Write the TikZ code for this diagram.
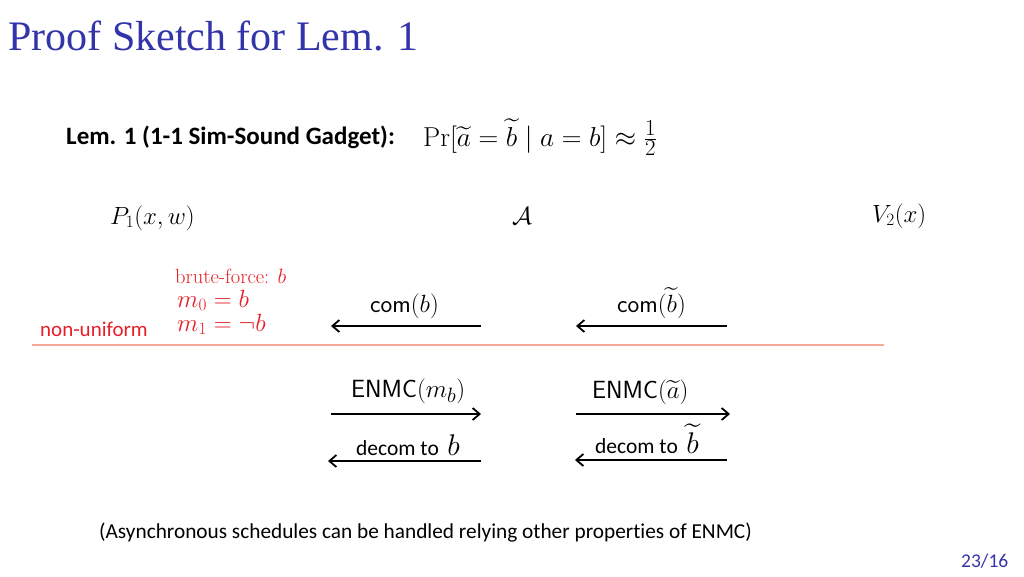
\documentclass[tikz,border=0pt]{standalone}
\usepackage{amsmath,amssymb}
\usepackage{graphicx}
\usepackage{fontspec}
\setmainfont{Latin Modern Roman}
\newfontfamily\titlefont{Liberation Serif}
\newfontfamily\calib[Ligatures=NoCommon]{Carlito}
\usetikzlibrary{arrows.meta}
\definecolor{titleblue}{RGB}{51,51,170}
\definecolor{myred}{RGB}{230,30,40}
\definecolor{sepline}{RGB}{244,170,150}
\tikzset{
  msg/.style={line width=2.2pt,-{Straight Barb[length=7pt,width=12pt,line width=1.8pt]}},
  lbl/.style={inner sep=0pt,anchor=base west},
}
\begin{document}
\begin{tikzpicture}[x=1pt,y=-1pt]
\useasboundingbox (0,0) rectangle (1024,576);
% title
\node[lbl,text=titleblue,font=\titlefont\fontsize{42}{50}\selectfont] (title) at (8,50) {Proof Sketch for Lem. 1};
% lemma
\node[lbl,font=\calib\bfseries\fontsize{25}{30}\selectfont] (lem) at (66,144) {Lem. 1 (1-1 Sim-Sound Gadget):};
\node[lbl,font=\fontsize{24.88}{30}\selectfont,scale=1.1,transform shape] (eq) at (423,146) {$\Pr[\widetilde{a}=\widetilde{b}\mid a=b]\approx\frac{1}{2}$};
% parties
\node[lbl,font=\fontsize{24}{28}\selectfont] (P) at (110,224) {$P_1(x,w)$};
\node[lbl,font=\fontsize{24.88}{30}\selectfont] (A) at (512,224) {$\mathcal{A}$};
\node[lbl,font=\fontsize{24}{28}\selectfont] (V) at (872,222) {$V_2(x)$};
% brute force
\node[lbl,text=myred,font=\fontsize{20.5}{24}\selectfont] (bf) at (175,283) {brute-force: $b$};
\node[lbl,text=myred,font=\fontsize{24}{28}\selectfont] (m0) at (177,307) {$m_0=b$};
\node[lbl,text=myred,font=\fontsize{24}{28}\selectfont] (m1) at (177,331) {$m_1=\neg b$};
\node[lbl,text=myred,font=\calib\fontsize{21}{25}\selectfont] (nu) at (40,336) {non-uniform};
\coordinate (sepL) at (32,345);
\coordinate (sepR) at (884,345);
\draw[sepline,line width=1.2pt] (sepL) -- (sepR);
% commitments
\node[lbl,font=\fontsize{24.88}{30}\selectfont] (com1) at (370,312) {$\mathsf{com}(b)$};
\node[lbl,font=\fontsize{24.88}{30}\selectfont] (com2) at (617,312) {$\mathsf{com}(\widetilde{b})$};
\coordinate (c1s) at (481,326); \coordinate (c1e) at (331,326);
\coordinate (c2s) at (727,326); \coordinate (c2e) at (576,326);
\draw[msg] (c1s) -- (c1e);
\draw[msg] (c2s) -- (c2e);
% ENMC
\node[lbl,font=\fontsize{24.88}{30}\selectfont] (en1) at (351,397) {$\mathsf{ENMC}(m_b)$};
\node[lbl,font=\fontsize{24.88}{30}\selectfont] (en2) at (592,398) {$\mathsf{ENMC}(\widetilde{a})$};
\coordinate (e1s) at (331,414); \coordinate (e1e) at (481,414);
\coordinate (e2s) at (576,414); \coordinate (e2e) at (730,414);
\draw[msg] (e1s) -- (e1e);
\draw[msg] (e2s) -- (e2e);
% decom
\node[lbl,font=\calib\fontsize{21.5}{25}\selectfont] (d1) at (356,455) {decom to\, \fontsize{24.88}{30}\selectfont\scalebox{1.2}{$b$}};
\node[lbl,font=\calib\fontsize{21.5}{25}\selectfont] (d2) at (595,453) {decom to\, \fontsize{24.88}{30}\selectfont\scalebox{1.2}{$\widetilde{b}$}};
\coordinate (d1s) at (481,461); \coordinate (d1e) at (328,461);
\coordinate (d2s) at (727,460); \coordinate (d2e) at (575,460);
\draw[msg] (d1s) -- (d1e);
\draw[msg] (d2s) -- (d2e);
% footer
\node[lbl,font=\calib\fontsize{21.3}{25}\selectfont] (foot) at (99,538) {(Asynchronous schedules can be handled relying other properties of ENMC)};
\node[lbl,text=titleblue,font=\calib\fontsize{19.5}{23}\selectfont] (pg) at (961,567) {23/16};
\end{tikzpicture}
\end{document}
